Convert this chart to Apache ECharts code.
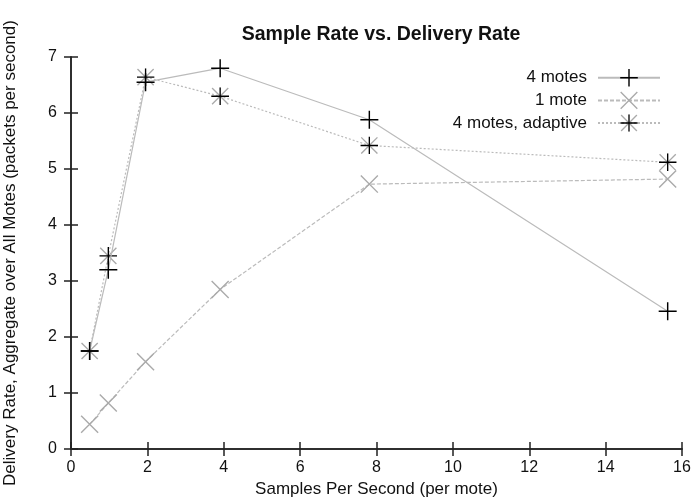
<!DOCTYPE html>
<html>
<head>
<meta charset="utf-8">
<title>Sample Rate vs. Delivery Rate</title>
<script src="https://cdn.jsdelivr.net/npm/echarts@6/dist/echarts.min.js"></script>
<style>
  html, body { margin: 0; padding: 0; background: #fff; }
  #chart { width: 693px; height: 502px; }
</style>
</head>
<body>
<div id="chart"></div>
<script>
// samples per second (per mote)
var sampleRates = [0.488, 0.977, 1.953, 3.906, 7.8125, 15.625];
// delivery rate, packets per second
var fourMotes = [1.75, 3.2, 6.55, 6.8, 5.88, 2.46];
var oneMote = [0.44, 0.82, 1.56, 2.85, 4.73, 4.82];
var fourMotesAdaptive = [1.75, 3.45, 6.64, 6.3, 5.42, 5.12];
var seriesNames = ['4 motes', '1 mote', '4 motes, adaptive'];

var FONT = "'Liberation Sans', Arial, Helvetica, sans-serif";

// marker shapes
var plusPath = 'path://M0,9.2H20V10.8H0Z M9.2,0H10.8V20H9.2Z';
var crossPath = 'path://M0,1.1L1.1,0L20,18.9L18.9,20Z M18.9,0L20,1.1L1.1,20L0,18.9Z';
var starSvg = "<svg xmlns='http://www.w3.org/2000/svg' width='40' height='40'>" +
    "<path d='M2,2L38,38M38,2L2,38' stroke='#aaaaaa' stroke-width='3'/>" +
    "<path d='M0,20H40M20,0V40' stroke='#000000' stroke-width='3'/></svg>";
var starSymbol = 'image://data:image/svg+xml;charset=utf-8,' + encodeURIComponent(starSvg);

function pairs(ys) {
    var out = [];
    for (var i = 0; i < sampleRates.length; i++) {
        out.push([sampleRates[i], ys[i]]);
    }
    return out;
}

var chart = echarts.init(document.getElementById('chart'), null, { renderer: 'canvas' });

var axisLine = { show: true, lineStyle: { color: '#222', width: 1.5 } };
var axisTick = { show: true, inside: true, length: 7, lineStyle: { color: '#222', width: 1.5 } };

var option = {
    backgroundColor: '#fff',
    animation: false,
    title: {
        text: 'Sample Rate vs. Delivery Rate',
        left: 376,
        textAlign: 'center',
        top: 20,
        textStyle: { fontFamily: FONT, fontSize: 19.5, fontWeight: 'bold', color: '#111' }
    },
    legend: {
        data: seriesNames,
        orient: 'vertical',
        align: 'right',
        right: 32,
        top: 69,
        padding: 0,
        itemWidth: 62,
        itemHeight: 22,
        itemGap: 5,
        textStyle: { fontFamily: FONT, fontSize: 17, color: '#111', padding: [0, 6, 0, 0] }
    },
    grid: { left: 71, right: 11, top: 57, bottom: 53, outerBoundsMode: 'none' },
    xAxis: [{
        type: 'value',
        min: 0, max: 16, interval: 2,
        name: 'Samples Per Second (per mote)',
        nameLocation: 'middle',
        nameGap: 32,
        nameTextStyle: { fontFamily: FONT, fontSize: 17, color: '#111' },
        axisLine: axisLine,
        axisTick: axisTick,
        splitLine: { show: false },
        axisLabel: { fontFamily: FONT, fontSize: 16, color: '#111', margin: 11 }
    }, {
        type: 'value',
        position: 'top',
        min: 0, max: 16, interval: 2,
        axisLine: axisLine,
        axisTick: axisTick,
        splitLine: { show: false },
        axisLabel: { show: false }
    }],
    yAxis: [{
        type: 'value',
        min: 0, max: 7, interval: 1,
        name: 'Delivery Rate, Aggregate over All Motes (packets per second)',
        nameLocation: 'middle',
        nameGap: 52,
        nameTextStyle: { fontFamily: FONT, fontSize: 17, color: '#111' },
        axisLine: axisLine,
        axisTick: axisTick,
        splitLine: { show: false },
        axisLabel: { fontFamily: FONT, fontSize: 16, color: '#111', margin: 14 }
    }, {
        type: 'value',
        position: 'right',
        min: 0, max: 7, interval: 1,
        axisLine: axisLine,
        axisTick: axisTick,
        splitLine: { show: false },
        axisLabel: { show: false }
    }],
    series: [{
        name: seriesNames[0],
        type: 'line',
        data: pairs(fourMotes),
        symbol: plusPath,
        symbolSize: 18,
        z: 4,
        itemStyle: { color: '#000' },
        lineStyle: { color: '#bbbbbb', width: 1.2, type: 'solid' }
    }, {
        name: seriesNames[1],
        type: 'line',
        data: pairs(oneMote),
        symbol: crossPath,
        symbolSize: 18,
        z: 2,
        itemStyle: { color: '#aaaaaa' },
        lineStyle: { color: '#bbbbbb', width: 1.2, type: [4, 2] }
    }, {
        name: seriesNames[2],
        type: 'line',
        data: pairs(fourMotesAdaptive),
        symbol: starSymbol,
        symbolSize: 18,
        z: 3,
        itemStyle: { color: '#000' },
        lineStyle: { color: '#bbbbbb', width: 1.2, type: [2, 2] }
    }]
};

chart.setOption(option);
</script>
</body>
</html>
